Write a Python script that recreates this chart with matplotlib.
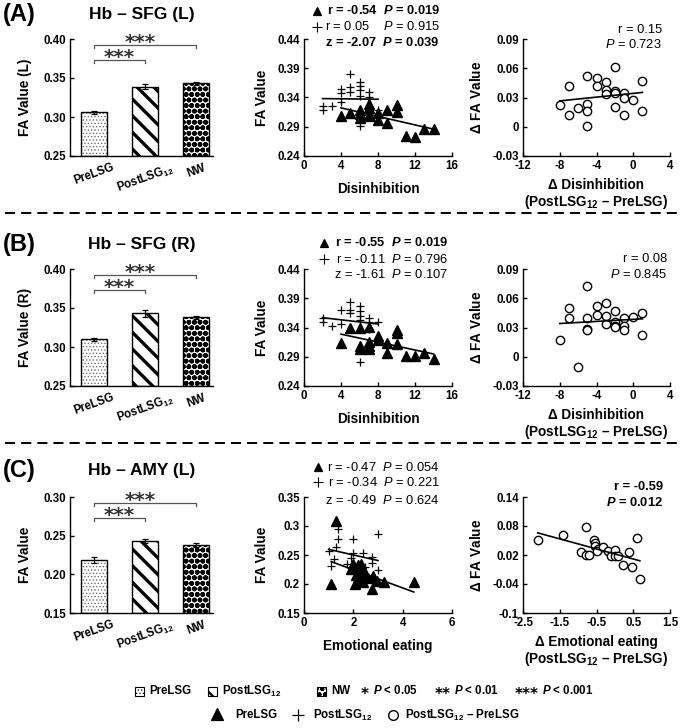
import numpy as np
import matplotlib
matplotlib.use("Agg")
import matplotlib.pyplot as plt
from matplotlib.patches import Rectangle
from matplotlib.lines import Line2D

plt.rcParams['font.family'] = ['Liberation Sans', 'DejaVu Sans']
plt.rcParams['mathtext.fontset'] = 'custom'
plt.rcParams['mathtext.rm'] = 'Liberation Sans'
plt.rcParams['mathtext.it'] = 'Liberation Sans:italic'
plt.rcParams['mathtext.bf'] = 'Liberation Sans:bold'
plt.rcParams['mathtext.bfit'] = 'Liberation Sans:italic:bold'

# ---------------- data ----------------
groups = ['PreLSG', r'PostLSG$_{\mathbf{12}}$', 'NW']
barA = [0.306, 0.339, 0.343]; errA = [0.002, 0.003, 0.002]
barB = [0.310, 0.343, 0.338]; errB = [0.002, 0.004, 0.002]
barC = [0.219, 0.243, 0.238]; errC = [0.004, 0.003, 0.003]

triA_x = [4, 5, 6, 6, 6, 7, 7, 7, 7, 8, 8, 9, 9, 10, 10, 11, 12, 13, 14]
triA_y = [0.309, 0.313, 0.305, 0.312, 0.319, 0.308, 0.310, 0.322, 0.329, 0.301, 0.314,
          0.297, 0.318, 0.316, 0.327, 0.274, 0.273, 0.287, 0.287]
plusA_x = [2, 2, 3, 4, 4, 4, 5, 5, 5, 6, 6, 6, 6, 6, 6, 7, 7, 7, 7, 8]
plusA_y = [0.325, 0.318, 0.325, 0.332, 0.347, 0.354, 0.380, 0.350, 0.358, 0.366, 0.360,
           0.353, 0.342, 0.302, 0.291, 0.350, 0.340, 0.322, 0.318, 0.318]
dA_x = [-8, -7, -7, -6, -5, -5, -5, -5, -4, -4, -3, -3, -3, -2, -2, -2, -2, -1, -1, -1, 0, 1, 1]
dA_y = [0.022, 0.042, 0.012, 0.019, 0.052, 0.023, 0.016, 0.001, 0.050, 0.042, 0.046, 0.038,
        0.034, 0.061, 0.037, 0.035, 0.020, 0.035, 0.029, 0.012, 0.027, 0.047, 0.016]

triB_x = [4, 5, 6, 6, 6, 7, 7, 7, 7, 8, 8, 9, 9, 10, 10, 10, 11, 12, 13, 14]
triB_y = [0.313, 0.340, 0.340, 0.309, 0.304, 0.341, 0.315, 0.309, 0.304, 0.325, 0.318,
          0.314, 0.296, 0.336, 0.330, 0.311, 0.292, 0.291, 0.297, 0.286]
plusB_x = [2, 2, 3, 4, 4, 5, 5, 5, 6, 6, 6, 6, 6, 6, 7, 7, 7, 8]
plusB_y = [0.356, 0.349, 0.342, 0.346, 0.370, 0.383, 0.370, 0.364, 0.376, 0.369, 0.360,
           0.353, 0.302, 0.281, 0.356, 0.350, 0.338, 0.350]
dB_x = [-8, -7, -7, -6, -5, -5, -5, -5, -4, -4, -3, -3, -3, -2, -2, -2, -2, -1, -1, -1, 0, 1, 1]
dB_y = [0.017, 0.050, 0.040, -0.011, 0.073, 0.040, 0.028, 0.027, 0.052, 0.043, 0.055, 0.042,
        0.034, 0.047, 0.036, 0.032, 0.031, 0.040, 0.032, 0.027, 0.041, 0.045, 0.022]

triC_x = [1.1, 1.3, 1.9, 2.0, 2.05, 2.1, 2.15, 2.2, 2.2, 2.25, 2.3, 2.3, 2.35, 2.4, 2.4,
          2.5, 2.6, 2.75, 2.8, 2.95, 3.25, 4.45]
triC_y = [0.200, 0.308, 0.226, 0.234, 0.200, 0.215, 0.228, 0.210, 0.232, 0.205, 0.235,
          0.220, 0.226, 0.204, 0.224, 0.215, 0.210, 0.192, 0.213, 0.206, 0.204, 0.203]
plusC_x = [1.0, 1.1, 1.2, 1.3, 1.37, 1.37, 1.74, 1.9, 2.0, 2.0, 2.2, 2.4, 2.47, 2.7, 2.76,
           2.76, 3.0, 3.0]
plusC_y = [0.257, 0.231, 0.243, 0.263, 0.295, 0.277, 0.235, 0.245, 0.277, 0.254, 0.235,
           0.254, 0.230, 0.210, 0.246, 0.237, 0.286, 0.224]
dC_x = [-2.1, -1.4, -0.79, -0.93, -0.79, -0.7, -0.56, -0.54, -0.54, -0.46, -0.48, -0.32,
        -0.18, -0.1, 0.0, 0.0, 0.08, 0.21, 0.38, 0.47, 0.59, 0.68]
dC_y = [0.051, 0.062, 0.077, 0.026, 0.019, 0.021, 0.051, 0.045, 0.038, 0.033, 0.029, 0.036,
        0.028, 0.017, 0.031, 0.017, 0.017, -0.001, 0.026, -0.005, 0.055, -0.030]

# ---------------- figure ----------------
W, H = 683, 728
fig = plt.figure(figsize=(W / 100, H / 100), dpi=100)


def px_axes(x0, y0, x1, y1):
    return fig.add_axes([x0 / W, 1 - y1 / H, (x1 - x0) / W, (y1 - y0) / H])


def ftext(x, y, s, **kw):
    return fig.text(x / W, 1 - y / H, s, **kw)


TICKFS = 8.3
LABFS = 9.8


def style_axes(ax):
    for s in ['top', 'right']:
        ax.spines[s].set_visible(False)
    for s in ['left', 'bottom']:
        ax.spines[s].set_linewidth(1.0)
    ax.tick_params(direction='in', length=3, width=1, labelsize=TICKFS, pad=3)
    for lab in ax.get_xticklabels() + ax.get_yticklabels():
        lab.set_fontweight('bold')


def bar_panel(y0, y1, means, errs, ylim, yticks, ylabel, br1, br2):
    ax = px_axes(70, y0, 213, y1)
    x = np.arange(3)
    hatches = ['.....', '\\\\', 'ooo']
    hcolors = ['#707070', 'black', 'black']
    hlw = [0.6, 2.4, 1.8]
    for i in range(3):
        with plt.rc_context({'hatch.linewidth': hlw[i], 'hatch.color': hcolors[i]}):
            b = ax.bar(x[i], means[i] - ylim[0], bottom=ylim[0], width=0.5,
                       color='white', edgecolor=hcolors[i], hatch=hatches[i], linewidth=0)
            for p in b:
                if hasattr(p, 'set_hatch_linewidth'):
                    p.set_hatch_linewidth(hlw[i])
        ax.bar(x[i], means[i] - ylim[0], bottom=ylim[0], width=0.5, fill=False,
               edgecolor='black', linewidth=1.0)
    ax.errorbar(x, means, yerr=errs, fmt='none', ecolor='black', elinewidth=0.9,
                capsize=2.5, capthick=0.9)
    ax.set_xlim(-0.47, 2.33)
    ax.set_ylim(*ylim)
    ax.set_yticks(yticks)
    ax.set_yticklabels(['%.2f' % t for t in yticks])
    ax.set_xticks(x)
    ax.set_xticklabels(groups, rotation=20, fontsize=8.5)
    style_axes(ax)
    ax.tick_params(axis='x', length=0, pad=4)
    ax.set_ylabel(ylabel, fontsize=LABFS, fontweight='bold', labelpad=8)
    # significance brackets
    tk = (ylim[1] - ylim[0]) * 0.03
    for (xa, xb, yb, xs) in [(0, 1, br1, 0.5), (0, 2, br2, 0.9)]:
        ax.plot([xa, xa, xb, xb], [yb - tk, yb, yb, yb - tk], color='#555555', lw=0.9,
                clip_on=False)
        ax.annotate('***', xy=(xs, yb), xytext=(0, -2.5), textcoords='offset points',
                    ha='center', va='baseline', fontsize=14.5, fontweight='bold',
                    color='#333333', family='DejaVu Sans', annotation_clip=False)
    return ax


def fitline(ax, xs, ys, **kw):
    xs = np.asarray(xs, float); ys = np.asarray(ys, float)
    k, b = np.polyfit(xs, ys, 1)
    xx = np.array([xs.min(), xs.max()])
    ax.plot(xx, k * xx + b, color='black', lw=1.2, **kw)


def scatter_panel(y0, y1, tx, ty, px, py, xlim, xticks, ylim, yticks, ylabels, xlabel):
    ax = px_axes(304, y0, 452, y1)
    ax.plot(px, py, linestyle='none', marker='+', ms=6, mew=0.9, color='black')
    ax.plot(tx, ty, linestyle='none', marker='^', ms=6.5, color='black')
    fitline(ax, px, py)
    fitline(ax, tx, ty)
    ax.set_xlim(*xlim); ax.set_ylim(*ylim)
    ax.set_xticks(xticks); ax.set_yticks(yticks)
    ax.set_yticklabels(ylabels)
    style_axes(ax)
    ax.set_ylabel('FA Value', fontsize=LABFS, fontweight='bold', labelpad=6)
    ax.set_xlabel(xlabel, fontsize=LABFS, fontweight='bold', labelpad=7)
    return ax


def delta_panel(y0, y1, dx, dy, xlim, xticks, xlabels, ylim, yticks, ylabels, xlabel):
    ax = px_axes(523, y0, 670, y1)
    ax.plot(dx, dy, linestyle='none', marker='o', ms=6, mfc='white', mec='black', mew=1.0)
    fitline(ax, dx, dy)
    ax.set_xlim(*xlim); ax.set_ylim(*ylim)
    ax.set_xticks(xticks); ax.set_xticklabels(xlabels)
    ax.set_yticks(yticks); ax.set_yticklabels(ylabels)
    style_axes(ax)
    ax.set_ylabel(r'$\mathbf{\Delta}$ FA Value', fontsize=LABFS, fontweight='bold', labelpad=6)
    ax.set_xlabel(xlabel, fontsize=LABFS, fontweight='bold', labelpad=4, linespacing=1.1)
    return ax


SUB = r'PostLSG$_{\mathbf{12}}$'
dis_lab = 'Δ Disinhibition\n(' + SUB + ' – PreLSG)'
emo_lab = 'Δ Emotional eating\n(' + SUB + ' – PreLSG)'

# Row A
bar_panel(39, 156, barA, errA, (0.25, 0.40), [0.25, 0.30, 0.35, 0.40], 'FA Value (L)',
          0.3734, 0.3927)
scatter_panel(39, 156, triA_x, triA_y, plusA_x, plusA_y, (0, 16), [0, 4, 8, 12, 16],
              (0.24, 0.44), [0.24, 0.29, 0.34, 0.39, 0.44],
              ['0.24', '0.29', '0.34', '0.39', '0.44'], 'Disinhibition')
delta_panel(39, 156, dA_x, dA_y, (-12, 4), [-12, -8, -4, 0, 4], ['-12', '-8', '-4', '0', '4'],
            (-0.03, 0.09), [-0.03, 0, 0.03, 0.06, 0.09], ['-0.03', '0', '0.03', '0.06', '0.09'],
            dis_lab)

# Row B
bar_panel(269, 386, barB, errB, (0.25, 0.40), [0.25, 0.30, 0.35, 0.40], 'FA Value (R)',
          0.3734, 0.3927)
scatter_panel(269, 386, triB_x, triB_y, plusB_x, plusB_y, (0, 16), [0, 4, 8, 12, 16],
              (0.24, 0.44), [0.24, 0.29, 0.34, 0.39, 0.44],
              ['0.24', '0.29', '0.34', '0.39', '0.44'], 'Disinhibition')
delta_panel(269, 386, dB_x, dB_y, (-12, 4), [-12, -8, -4, 0, 4], ['-12', '-8', '-4', '0', '4'],
            (-0.03, 0.09), [-0.03, 0, 0.03, 0.06, 0.09], ['-0.03', '0', '0.03', '0.06', '0.09'],
            dis_lab)

# Row C
bar_panel(497, 613, barC, errC, (0.15, 0.30), [0.15, 0.20, 0.25, 0.30], 'FA Value',
          0.2734, 0.2927)
scatter_panel(497, 613, triC_x, triC_y, plusC_x, plusC_y, (0, 6), [0, 2, 4, 6],
              (0.15, 0.35), [0.15, 0.2, 0.25, 0.3, 0.35],
              ['0.15', '0.2', '0.25', '0.3', '0.35'], 'Emotional eating')
delta_panel(497, 613, dC_x, dC_y, (-2.5, 1.5), [-2.5, -1.5, -0.5, 0.5, 1.5],
            ['-2.5', '-1.5', '-0.5', '0.5', '1.5'],
            (-0.1, 0.14), [-0.1, -0.04, 0.02, 0.08, 0.14], ['-0.1', '-0.04', '0.02', '0.08', '0.14'],
            emo_lab)

# ---------------- titles ----------------
for lab, title, y in [('(A)', 'Hb – SFG (L)', 15), ('(B)', 'Hb – SFG (R)', 245),
                      ('(C)', 'Hb – AMY (L)', 471)]:
    ftext(3, y, lab, fontsize=17, fontweight='bold', va='center', ha='left')
    ftext(142, y, title, fontsize=12.5, fontweight='bold', va='center', ha='center')

# ---------------- stats text ----------------
STFS = 9.3


def stat(x, y, s, bold=False):
    ftext(x, y, s, fontsize=STFS, fontweight='bold' if bold else 'normal', ha='right',
          va='center')


def pit(bold):
    return r'$\mathbfit{P}$' if bold else r'$\mathit{P}$'


def mark(x, y, m, ms, mew=0.9):
    fig.add_artist(Line2D([x / W], [1 - y / H], marker=m, ms=ms, mew=mew, color='black',
                          linestyle='none'))


# A scatter
mark(317, 11, '^', 5.5); stat(440, 11, 'r = -0.54  ' + pit(True) + ' = 0.019', True)
mark(317, 27, '+', 6.5, 0.8); stat(440, 27, 'r = 0.05    ' + pit(False) + ' = 0.915')
stat(440, 43, 'z = -2.07  ' + pit(True) + ' = 0.039', True)
# B scatter
mark(324, 243, '^', 5.5); stat(448, 243, 'r = -0.55  ' + pit(True) + ' = 0.019', True)
mark(324, 259, '+', 6.5, 0.8); stat(448, 259, 'r = -0.11  ' + pit(False) + ' = 0.796')
stat(448, 275, 'z = -1.61  ' + pit(False) + ' = 0.107')
# C scatter
mark(318, 467, '^', 5.5); stat(440, 467, 'r = -0.47  ' + pit(False) + ' = 0.054')
mark(318, 482, '+', 6.5, 0.8); stat(440, 482, 'r = -0.34  ' + pit(False) + ' = 0.221')
stat(440, 500, 'z = -0.49  ' + pit(False) + ' = 0.624')
# deltas
stat(662, 30, 'r = 0.15'); stat(662, 44, pit(False) + ' = 0.723')
stat(667, 259, 'r = 0.08'); stat(667, 275, pit(False) + ' = 0.845')
stat(663, 487, 'r = -0.59', True); stat(663, 502, pit(True) + ' = 0.012', True)

# ---------------- separators ----------------
for y in [213, 443]:
    fig.add_artist(Line2D([5 / W, 680 / W], [1 - y / H, 1 - y / H], color='black', lw=1.4,
                          dashes=(5.2, 3.1)))

# ---------------- legend ----------------
LGFS = 8.3
yl1, yl2 = 691, 715
sq = 9
for xb, hatch, hc, hl in [(135, '.....', '#707070', 0.5), (208, '\\\\', 'black', 1.6),
                          (317, 'ooo', 'black', 1.4)]:
    with plt.rc_context({'hatch.linewidth': hl, 'hatch.color': hc}):
        r = Rectangle((xb / W, 1 - (yl1 + sq / 2) / H), sq / W, sq / H, transform=fig.transFigure,
                      facecolor='white', edgecolor='black', lw=0.8, hatch=hatch)
        if hasattr(r, 'set_hatch_linewidth'):
            r.set_hatch_linewidth(hl)
        fig.add_artist(r)
ftext(149, yl1, 'PreLSG', fontsize=LGFS, fontweight='bold', va='center')
ftext(222, yl1, SUB, fontsize=LGFS, fontweight='bold', va='center')
ftext(331, yl1, 'NW', fontsize=LGFS, fontweight='bold', va='center')
for xs, stars, xt, ptxt in [(361, '*', 373, ' < 0.05'), (435, '**', 454, ' < 0.01'),
                            (515, '***', 542, ' < 0.001')]:
    ftext(xs, yl1 + 3, stars, fontsize=11, fontweight='bold', va='center', family='DejaVu Sans')
    ftext(xt, yl1, r'$\mathbfit{P}$' + ptxt, fontsize=LGFS, fontweight='bold', va='center')

mark(217, yl2 - 1, '^', 8)
ftext(235, yl2, 'PreLSG', fontsize=LGFS, fontweight='bold', va='center')
mark(298, yl2, '+', 8)
ftext(313, yl2, SUB, fontsize=LGFS, fontweight='bold', va='center')
fig.add_artist(Line2D([393 / W], [1 - yl2 / H], marker='o', ms=7, mfc='white', mec='black',
                      mew=1.0, linestyle='none'))
ftext(405, yl2, SUB + ' – PreLSG', fontsize=LGFS, fontweight='bold', va='center')

fig.savefig('out.png', dpi=100)
